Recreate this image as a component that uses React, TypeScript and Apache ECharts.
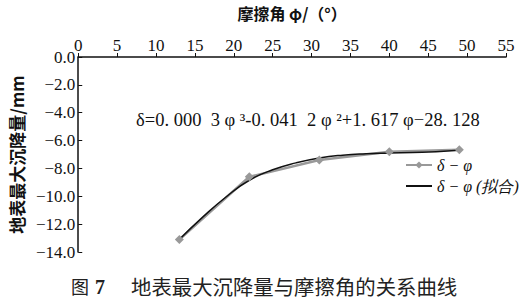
import React, { useEffect, useRef } from "react";
import * as echarts from "echarts";

const phiTicks = [0, 5, 10, 15, 20, 25, 30, 35, 40, 45, 50, 55];
const measuredPhi = [13, 22, 31, 40, 49];
const measuredDelta = [-13.1, -8.6, -7.4, -6.8, -6.65];
const fitPhi = [13, 16, 19, 22, 25, 28, 31, 34, 37, 40, 43, 46, 49];
const fitDelta = [-13.1, -11.5, -10.05, -8.85, -8.1, -7.6, -7.25, -7.05, -6.95, -6.9, -6.85, -6.8, -6.7];

const serif = "'Liberation Serif', 'Times New Roman', serif";
const cjk = "'Noto Sans CJK SC', sans-serif";

export default function App() {
  const ref = useRef<HTMLDivElement>(null);
  useEffect(() => {
    if (!ref.current) return;
    const chart = echarts.init(ref.current, undefined, { renderer: "svg" });
    chart.setOption({
      animation: false,
      backgroundColor: "#ffffff",
      grid: { left: 70, right: 19, top: 54, bottom: 54 },
      xAxis: {
        type: "value",
        position: "top",
        min: phiTicks[0],
        max: phiTicks[phiTicks.length - 1],
        interval: 5,
        name: "摩擦角 φ/（°）",
        nameLocation: "middle",
        nameGap: 36,
        nameTextStyle: { fontFamily: cjk, fontSize: 16, fontWeight: "bold", color: "#111" },
        axisLine: { show: true, lineStyle: { color: "#111", width: 1.5 } },
        axisTick: { show: true, inside: false, length: 4, lineStyle: { color: "#111" } },
        axisLabel: { fontFamily: serif, fontSize: 17, color: "#111", margin: 3 },
        splitLine: { show: false },
      },
      yAxis: {
        type: "value",
        min: -14,
        max: 0,
        interval: 2,
        name: "地表最大沉降量/mm",
        nameLocation: "middle",
        nameRotate: 90,
        nameGap: 52,
        nameTextStyle: { fontFamily: cjk, fontSize: 17, fontWeight: "bold", color: "#111" },
        axisLine: { show: true, lineStyle: { color: "#111", width: 1.5 } },
        axisTick: { show: true, inside: true, length: 4, lineStyle: { color: "#111" } },
        axisLabel: {
          fontFamily: serif,
          fontSize: 17,
          color: "#111",
          margin: 3,
          formatter: (v: number) => (v < 0 ? "−" + Math.abs(v).toFixed(1) : v.toFixed(1)),
        },
        splitLine: { show: false },
      },
      legend: {
        orient: "vertical",
        left: 400,
        top: 152,
        itemGap: 5,
        itemWidth: 26,
        itemHeight: 9,
        textStyle: { fontFamily: serif, fontSize: 16, color: "#111", fontStyle: "italic" },
        data: [
          { name: "δ − φ" },
          { name: "δ − φ (拟合)", itemStyle: { opacity: 0 } },
        ],
      },
      graphic: [
        {
          type: "text",
          left: 136,
          top: 110,
          style: {
            text: "δ=0. 000  3 φ ³-0. 041  2 φ ²+1. 617 φ−28. 128",
            font: `18.5px ${serif}`,
            fill: "#111",
          },
        },
        {
          type: "text",
          left: 71,
          top: 277,
          style: { text: "图", font: `18px ${cjk}`, fill: "#222" },
        },
        {
          type: "text",
          left: 95,
          top: 277,
          style: { text: "7", font: `bold 20px ${serif}`, fill: "#222" },
        },
        {
          type: "text",
          left: 131,
          top: 276,
          style: { text: "地表最大沉降量与摩擦角的关系曲线", font: `20.4px ${cjk}`, fill: "#222" },
        },
      ],
      series: [
        {
          name: "δ − φ",
          type: "line",
          data: measuredPhi.map((p, i) => [p, measuredDelta[i]]),
          symbol: "diamond",
          symbolSize: 9,
          itemStyle: { color: "#999999" },
          lineStyle: { color: "#999999", width: 2.5 },
        },
        {
          name: "δ − φ (拟合)",
          type: "line",
          smooth: true,
          data: fitPhi.map((p, i) => [p, fitDelta[i]]),
          showSymbol: false,
          symbol: "none",
          itemStyle: { color: "#111111" },
          lineStyle: { color: "#111111", width: 1.5 },
        },
      ],
    });
    return () => chart.dispose();
  }, []);
  return (
    <div
      ref={ref}
      style={{ position: "absolute", left: 0, top: 0, width: 525, height: 306, background: "#fff" }}
    />
  );
}
